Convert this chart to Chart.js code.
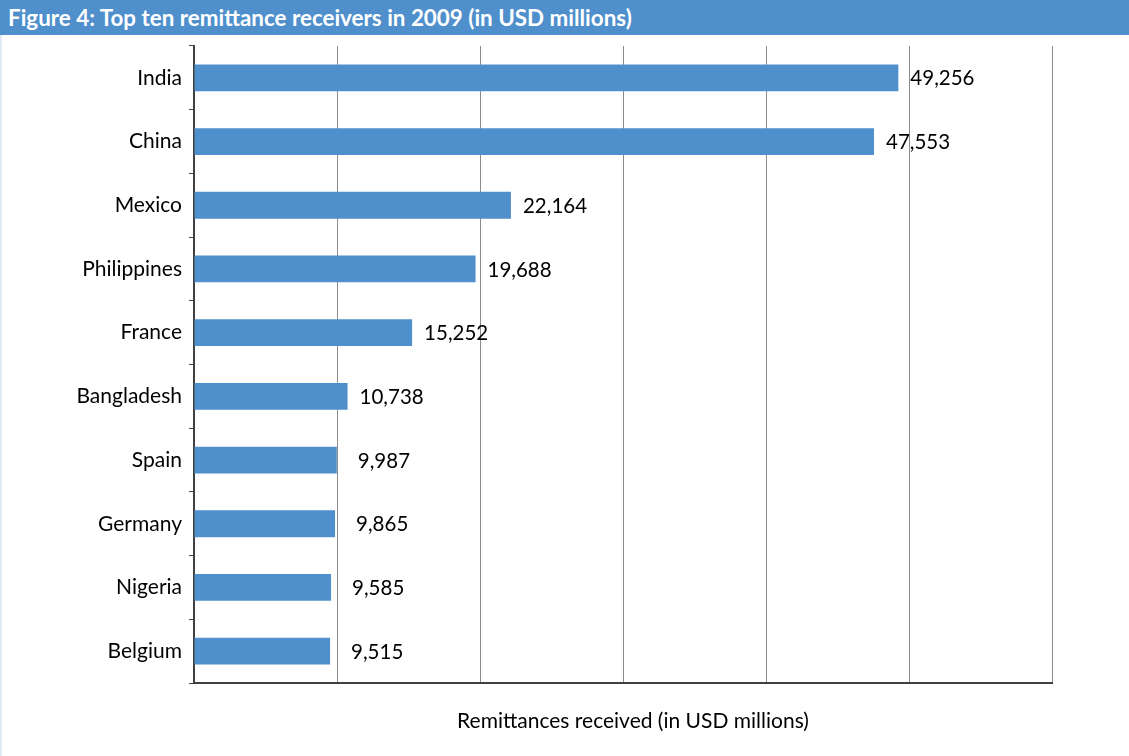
<!DOCTYPE html>
<html>
<head>
<meta charset="utf-8">
<script src="https://cdn.jsdelivr.net/npm/chart.js@4/dist/chart.umd.min.js"></script>
<style>
  html, body { margin: 0; padding: 0; background: #fff; }
  body { width: 1129px; height: 756px; position: relative; overflow: hidden; }
  #hdr { position: absolute; left: 0; top: 0; width: 1129px; height: 35px; background: #4F8FCC;
         color: #fff; font-family: Lato, "Open Sans", sans-serif; font-weight: bold; font-size: 22.4px;
         line-height: 35px; padding-left: 8px; box-sizing: border-box; white-space: nowrap; }
  #lb { position: absolute; left: 0; top: 35px; width: 2px; height: 721px; background: #dfeaf6; }
  #wrap { position: absolute; left: 0; top: 0; width: 1129px; height: 756px; }
</style>
</head>
<body>
<div id="wrap"><canvas id="c" width="1129" height="756"></canvas></div>
<div id="hdr">Figure 4: Top ten remittance receivers in 2009 (in USD millions)</div>
<div id="lb"></div>
<script>
const categories = ["India", "China", "Mexico", "Philippines", "France", "Bangladesh", "Spain", "Germany", "Nigeria", "Belgium"];
const values = [49256, 47553, 22164, 19688, 15252, 10738, 9987, 9865, 9585, 9515];
const xTitle = "Remittances received (in USD millions)";
const FONT = "Lato, 'Open Sans', sans-serif";

const valueLabels = {
  id: 'valueLabels',
  afterDatasetsDraw(chart) {
    const ctx = chart.ctx;
    const meta = chart.getDatasetMeta(0);
    ctx.save();
    ctx.font = "20.5px " + FONT;
    ctx.fillStyle = "#000";
    ctx.textAlign = "left";
    ctx.textBaseline = "middle";
    meta.data.forEach((bar, i) => {
      const off = values[i] < 10000 ? 21 : 12;
      ctx.fillText(values[i].toLocaleString('en-US'), bar.x + off, bar.y + 1);
    });
    ctx.restore();
  }
};

const axisTitle = {
  id: 'axisTitle',
  afterDraw(chart) {
    const ctx = chart.ctx;
    ctx.save();
    ctx.font = "21px " + FONT;
    ctx.fillStyle = "#000";
    ctx.textAlign = "center";
    ctx.textBaseline = "middle";
    ctx.fillText(xTitle, chart.chartArea.left + (chart.chartArea.right - chart.chartArea.left) / 2 + 10, chart.chartArea.bottom + 38);
    ctx.restore();
  }
};

new Chart(document.getElementById('c'), {
  type: 'bar',
  data: {
    labels: categories,
    datasets: [{
      data: values,
      backgroundColor: '#4F8FCC',
      borderWidth: 0,
      categoryPercentage: 1.0,
      barPercentage: 0.42
    }]
  },
  options: {
    indexAxis: 'y',
    responsive: false,
    animation: false,
    layout: { padding: { top: 46, right: 77, left: 0, bottom: 0 } },
    plugins: { legend: { display: false }, tooltip: { enabled: false }, title: { display: false } },
    scales: {
      x: {
        min: 0, max: 60000,
        ticks: { display: false, stepSize: 10000 },
        grid: { color: '#8c8c8c', lineWidth: 1, drawTicks: false },
        border: { color: '#404040', width: 2 },
        title: { display: false, text: xTitle },
        afterFit(scale) { scale.height = 73; }
      },
      y: {
        offset: true,
        ticks: { color: '#000', font: { family: FONT, size: 21 }, padding: 7 },
        grid: { offset: true, drawOnChartArea: false, drawTicks: true, tickLength: 5, color: '#404040', lineWidth: 1 },
        border: { color: '#404040', width: 2 },
        afterFit(scale) { scale.width = 194; }
      }
    }
  },
  plugins: [valueLabels, axisTitle]
});
</script>
</body>
</html>
